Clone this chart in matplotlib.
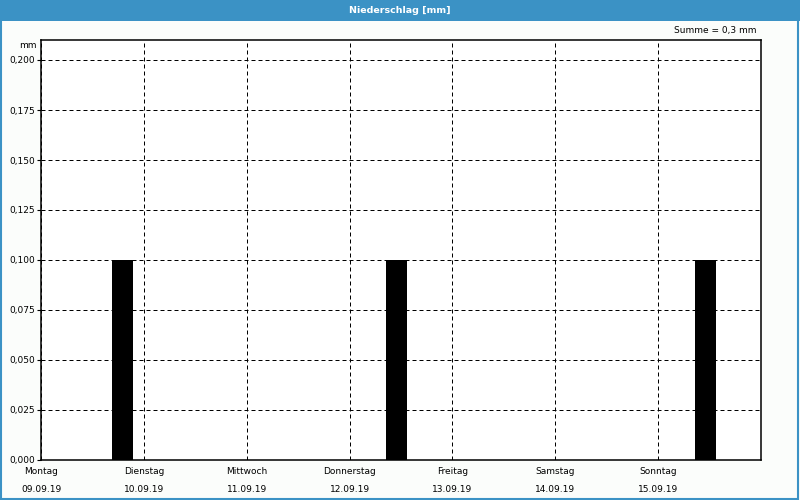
import numpy as np
import matplotlib
matplotlib.use("Agg")
import matplotlib.pyplot as plt
from matplotlib.patches import Rectangle

# data
days = ["Montag", "Dienstag", "Mittwoch", "Donnerstag", "Freitag", "Samstag", "Sonntag"]
dates = ["09.09.19", "10.09.19", "11.09.19", "12.09.19", "13.09.19", "14.09.19", "15.09.19"]
rain_hours = [19, 83, 155]      # hours since Monday 00:00
rain_mm = [0.1, 0.1, 0.1]
y_ticks = [0.0, 0.025, 0.05, 0.075, 0.1, 0.125, 0.15, 0.175, 0.2]

blue = "#3b92c5"
bg = "#fbfdfb"
fs = 6.5

fig = plt.figure(figsize=(8, 5), dpi=100, facecolor=bg)

# title bar + frame
fig.patches.append(Rectangle((0, 0.958), 1, 0.042, transform=fig.transFigure,
                             facecolor=blue, edgecolor="none", zorder=0))
fig.patches.append(Rectangle((0.001, 0.002), 0.997, 0.997, transform=fig.transFigure,
                             facecolor="none", edgecolor=blue, lw=1.5, zorder=5))
fig.text(0.5, 0.979, "Niederschlag [mm]", color="white", fontsize=6.8,
         fontweight="bold", ha="center", va="center")

ax = fig.add_axes([41 / 800, 40 / 500, 720 / 800, 420 / 500])
ax.set_facecolor("white")

ax.bar(rain_hours, rain_mm, width=4.9, color="black", zorder=3)

ax.set_xlim(0, 168)
ax.set_ylim(0, 0.21)
ax.set_yticks(y_ticks)
ax.set_yticklabels([f"{v:.3f}".replace(".", ",") for v in y_ticks], fontsize=fs)
ax.set_xticks(np.arange(len(days)) * 24)
ax.set_xticklabels([d + "\n" + t for d, t in zip(days, dates)], fontsize=fs,
                   linespacing=2.25)
ax.tick_params(axis="y", length=3, width=0.8, pad=1)
ax.tick_params(axis="x", length=0, pad=5)

ax.grid(True, color="black", linestyle=(0, (4, 3)), linewidth=0.72, zorder=1)
ax.set_axisbelow(True)
for s in ax.spines.values():
    s.set_linewidth(1.1)
    s.set_color("black")

fig.text(37 / 800, 1 - 45 / 500, "mm", fontsize=fs, ha="right", va="center")
fig.text(756 / 800, 1 - 31 / 500, "Summe = 0,3 mm", fontsize=fs, ha="right", va="center")

fig.savefig("out.png", dpi=100, facecolor=bg)
